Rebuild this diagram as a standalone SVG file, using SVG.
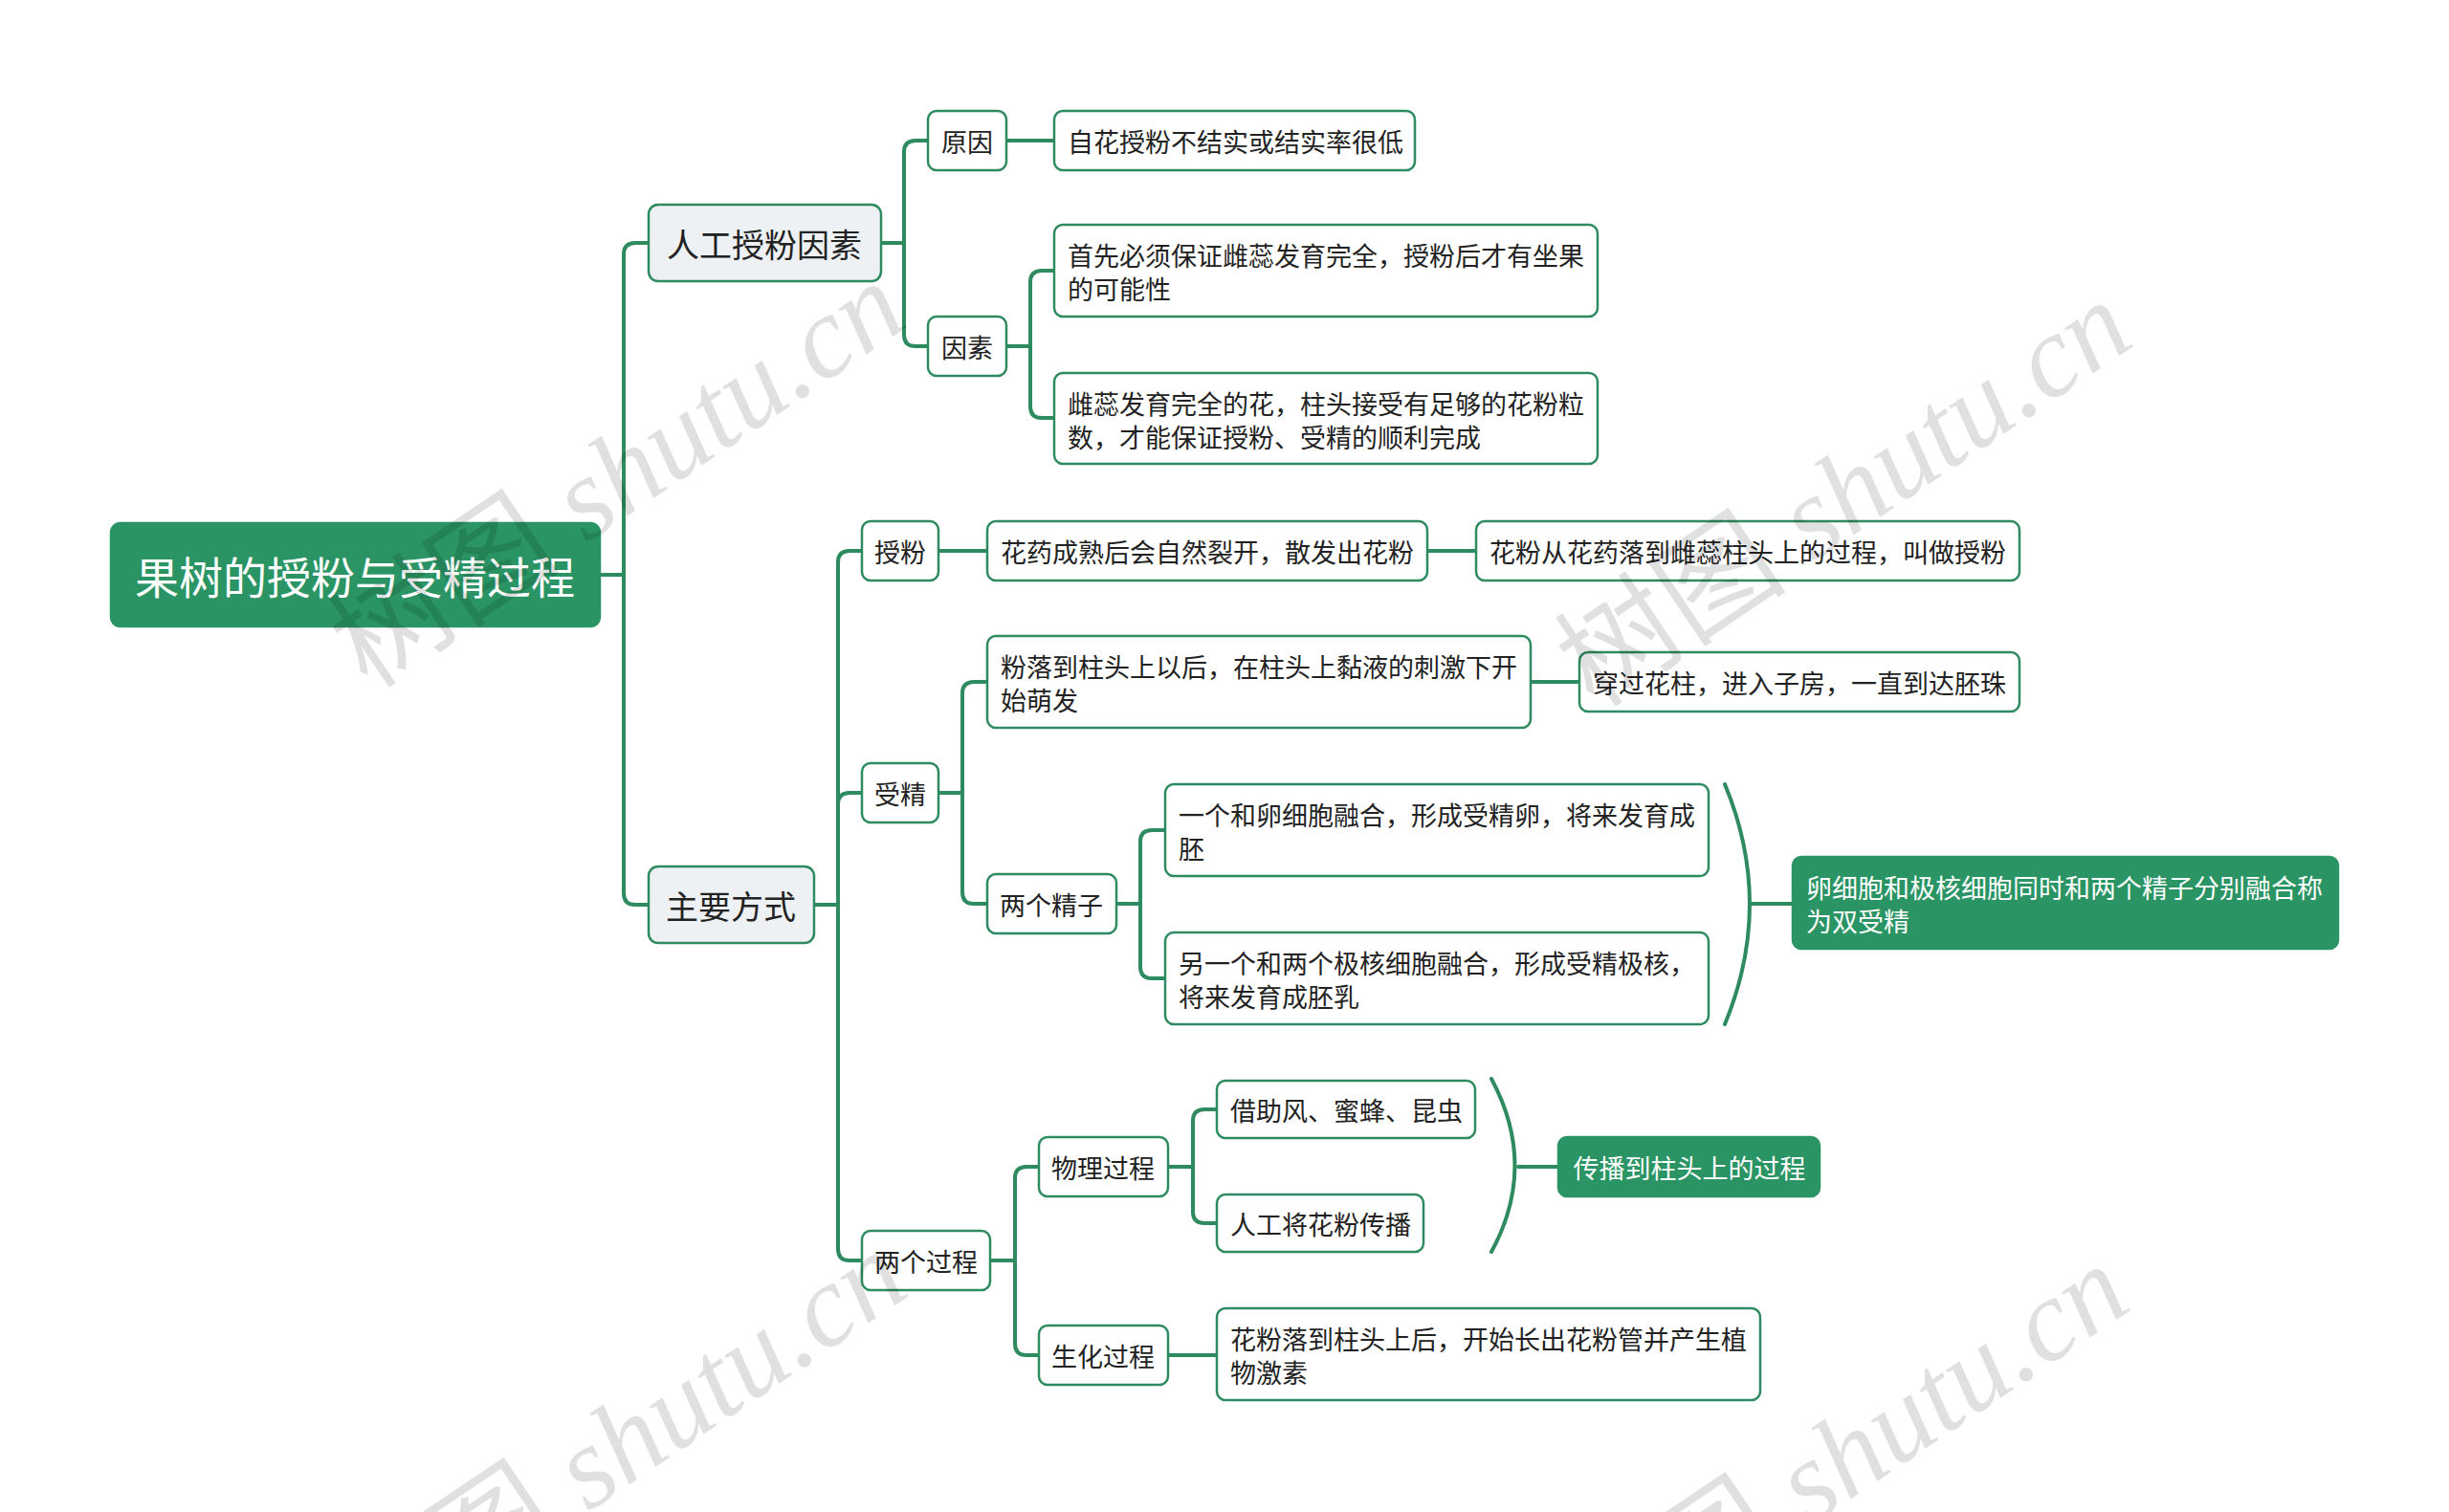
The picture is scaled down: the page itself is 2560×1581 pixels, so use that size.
<svg xmlns="http://www.w3.org/2000/svg" width="2560" height="1581" viewBox="0 0 2560 1581">
<style>
text{font-family:"Noto Sans CJK SC","Noto Sans",sans-serif;fill:#222;}
.n{fill:#fff;stroke:#2e8b5f;stroke-width:2.5;}
.l1{fill:#eef1f4;stroke:#2e8b5f;stroke-width:2.5;}
.g{fill:#2a9464;stroke:#2a9464;stroke-width:2.5;}
.t{font-size:27px;dominant-baseline:central;}
.c{text-anchor:middle;}
.w{fill:#fff;}
.conn path{fill:none;stroke:#2e8b5f;stroke-width:4;stroke-linecap:round;}
.wm{font-family:"Liberation Serif","DejaVu Serif",serif;font-style:italic;font-size:122px;fill:#000;fill-opacity:0.12;}
.wm tspan.cj{font-family:"Noto Sans CJK SC",sans-serif;font-style:normal;}
</style>
<rect width="2560" height="1581" fill="#fff"/>
<g class="conn" id="connectors">
<path d="M627,601 H652 V266 Q652,254 664,254 H678"/>
<path d="M652,601 V934 Q652,946 664,946 H678"/>
<path d="M921,254 H945 V159 Q945,147 957,147 H970"/>
<path d="M945,254 V350 Q945,362 957,362 H970"/>
<path d="M1052,147 H1102"/>
<path d="M1052,362 H1077 V295 Q1077,283 1089,283 H1102"/>
<path d="M1077,362 V425 Q1077,437 1089,437 H1102"/>
<path d="M851,946 H876 V588 Q876,576 888,576 H901"/>
<path d="M876,946 V841 Q876,829 888,829 H901"/>
<path d="M876,946 V1306 Q876,1318 888,1318 H901"/>
<path d="M981,576 H1032"/>
<path d="M1492,576 H1543"/>
<path d="M981,829 H1006 V725 Q1006,713 1018,713 H1032"/>
<path d="M1006,829 V933 Q1006,945 1018,945 H1032"/>
<path d="M1600,713 H1651"/>
<path d="M1167,945 H1192 V880 Q1192,868 1204,868 H1218"/>
<path d="M1192,945 V1011 Q1192,1023 1204,1023 H1218"/>
<path d="M1803,820 Q1855,945 1803,1071"/>
<path d="M1829,945 H1874"/>
<path d="M1035,1318 H1061 V1232 Q1061,1220 1073,1220 H1086"/>
<path d="M1061,1318 V1405 Q1061,1417 1073,1417 H1086"/>
<path d="M1221,1220 H1247 V1172 Q1247,1160 1259,1160 H1272"/>
<path d="M1247,1220 V1267 Q1247,1279 1259,1279 H1272"/>
<path d="M1221,1417 H1272"/>
<path d="M1559,1128 Q1608,1219 1559,1309"/>
<path d="M1587,1220 H1629"/>
</g>
<g id="root"><rect class="g" x="116" y="547" width="511" height="108" rx="10"/><text class="w c" x="371" y="601" font-size="46" dominant-baseline="central">果树的授粉与受精过程</text></g>
<g id="n-rengong"><rect class="l1" x="678" y="214" width="243" height="80" rx="10"/><text class="c" x="799" y="254" font-size="34" dominant-baseline="central">人工授粉因素</text></g>
<g id="n-zhuyao"><rect class="l1" x="678" y="906" width="173" height="80" rx="10"/><text class="c" x="764" y="946" font-size="34" dominant-baseline="central">主要方式</text></g>
<g id="n-yuanyin"><rect class="n" x="970" y="116" width="82" height="62" rx="9"/><text class="t c" x="1011" y="147">原因</text></g>
<g id="n-yinsu"><rect class="n" x="970" y="331" width="82" height="62" rx="9"/><text class="t c" x="1011" y="362">因素</text></g>
<g id="n-zihua"><rect class="n" x="1102" y="116" width="377" height="62" rx="9"/><text class="t" x="1116" y="147">自花授粉不结实或结实率很低</text></g>
<g id="n-shouxian"><rect class="n" x="1102" y="235" width="568" height="96" rx="9"/><text class="t" x="1116" y="266">首先必须保证雌蕊发育完全，授粉后才有坐果</text><text class="t" x="1116" y="301">的可能性</text></g>
<g id="n-cirui"><rect class="n" x="1102" y="390" width="568" height="95" rx="9"/><text class="t" x="1116" y="421">雌蕊发育完全的花，柱头接受有足够的花粉粒</text><text class="t" x="1116" y="456">数，才能保证授粉、受精的顺利完成</text></g>
<g id="n-shoufen"><rect class="n" x="901" y="545" width="80" height="62" rx="9"/><text class="t c" x="941" y="576">授粉</text></g>
<g id="n-huayao"><rect class="n" x="1032" y="545" width="460" height="62" rx="9"/><text class="t" x="1046" y="576">花药成熟后会自然裂开，散发出花粉</text></g>
<g id="n-huafen"><rect class="n" x="1543" y="545" width="568" height="62" rx="9"/><text class="t" x="1557" y="576">花粉从花药落到雌蕊柱头上的过程，叫做授粉</text></g>
<g id="n-shoujing"><rect class="n" x="901" y="798" width="80" height="62" rx="9"/><text class="t c" x="941" y="829">受精</text></g>
<g id="n-fenluo"><rect class="n" x="1032" y="665" width="568" height="96" rx="9"/><text class="t" x="1046" y="696">粉落到柱头上以后，在柱头上黏液的刺激下开</text><text class="t" x="1046" y="731">始萌发</text></g>
<g id="n-chuanguo"><rect class="n" x="1651" y="682" width="460" height="62" rx="9"/><text class="t" x="1665" y="713">穿过花柱，进入子房，一直到达胚珠</text></g>
<g id="n-liangge"><rect class="n" x="1032" y="914" width="135" height="62" rx="9"/><text class="t c" x="1099" y="945">两个精子</text></g>
<g id="n-yige"><rect class="n" x="1218" y="820" width="568" height="96" rx="9"/><text class="t" x="1232" y="851">一个和卵细胞融合，形成受精卵，将来发育成</text><text class="t" x="1232" y="886">胚</text></g>
<g id="n-lingyige"><rect class="n" x="1218" y="975" width="568" height="96" rx="9"/><text class="t" x="1232" y="1006">另一个和两个极核细胞融合，形成受精极核，</text><text class="t" x="1232" y="1041">将来发育成胚乳</text></g>
<g id="n-shuangshoujing"><rect class="g" x="1874" y="896" width="570" height="96" rx="9"/><text class="t w" x="1888" y="927">卵细胞和极核细胞同时和两个精子分别融合称</text><text class="t w" x="1888" y="962">为双受精</text></g>
<g id="n-lianggeguocheng"><rect class="n" x="901" y="1287" width="134" height="62" rx="9"/><text class="t c" x="968" y="1318">两个过程</text></g>
<g id="n-wuli"><rect class="n" x="1086" y="1189" width="135" height="62" rx="9"/><text class="t c" x="1153" y="1220">物理过程</text></g>
<g id="n-jiezhu"><rect class="n" x="1272" y="1130" width="270" height="60" rx="9"/><text class="t" x="1286" y="1160">借助风、蜜蜂、昆虫</text></g>
<g id="n-rengongjiang"><rect class="n" x="1272" y="1249" width="216" height="60" rx="9"/><text class="t" x="1286" y="1279">人工将花粉传播</text></g>
<g id="n-chuanbo"><rect class="g" x="1629" y="1189" width="273" height="62" rx="9"/><text class="t w c" x="1766" y="1220">传播到柱头上的过程</text></g>
<g id="n-shenghua"><rect class="n" x="1086" y="1386" width="135" height="62" rx="9"/><text class="t c" x="1153" y="1417">生化过程</text></g>
<g id="n-huafenluo"><rect class="n" x="1272" y="1368" width="568" height="96" rx="9"/><text class="t" x="1286" y="1399">花粉落到柱头上后，开始长出花粉管并产生植</text><text class="t" x="1286" y="1434">物激素</text></g>
<g id="watermarks">
<text class="wm" transform="translate(385,722) rotate(-34)"><tspan class="cj">树图</tspan> shutu.cn</text>
<text class="wm" transform="translate(1667,742) rotate(-34)"><tspan class="cj">树图</tspan> shutu.cn</text>
<text class="wm" transform="translate(387,1735) rotate(-34)"><tspan class="cj">树图</tspan> shutu.cn</text>
<text class="wm" transform="translate(1664,1750) rotate(-34)"><tspan class="cj">树图</tspan> shutu.cn</text>
</g>
</svg>
